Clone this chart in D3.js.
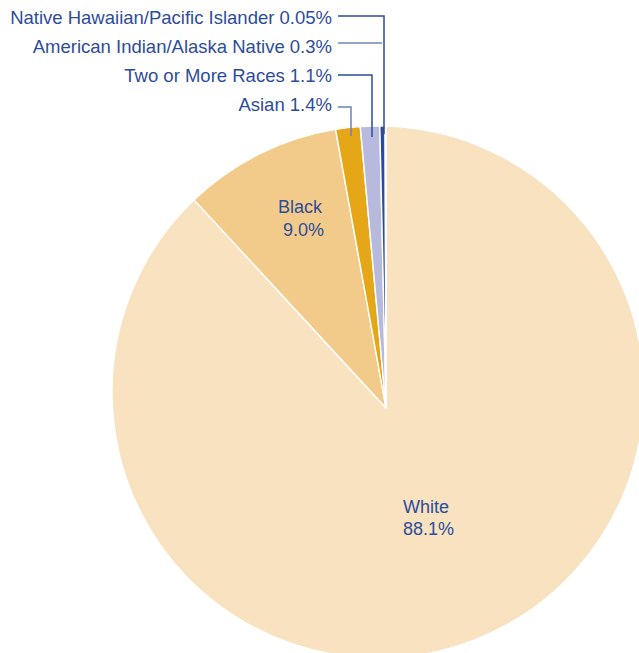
<!DOCTYPE html>
<html>
<head>
<meta charset="utf-8">
<script src="https://cdn.jsdelivr.net/npm/d3@7"></script>
<style>
  html, body { margin: 0; padding: 0; background: #fff; }
  svg { display: block; }
  text { font-family: "Liberation Sans", Arial, Helvetica, sans-serif; }
</style>
</head>
<body>
<svg id="chart" width="639" height="653"></svg>
<script>
// ---- data ----
const categories = ["White", "Black", "Asian", "Two or More Races", "American Indian/Alaska Native", "Native Hawaiian/Pacific Islander"];
const values = [88.1, 9.0, 1.4, 1.1, 0.3, 0.05];
const valueLabels = ["88.1%", "9.0%", "1.4%", "1.1%", "0.3%", "0.05%"];
const colors = ["#F8E2BF", "#F2CB8A", "#E5A718", "#B8BADD", "#2D4B9C", "#23418F"];

const svg = d3.select("#chart");
const W = 639, H = 653;

// geometry
const apex = [386, 408];      // point where slice edges meet
const center = [378, 392];    // centre of the outer outline
const R = 266;

const pie = d3.pie().sort(null).value(d => d.v);
const arcsData = pie(categories.map((c, i) => ({ c, v: values[i], i })));

function rayHit(theta) {
  const d = [Math.sin(theta), -Math.cos(theta)];
  const w = [apex[0] - center[0], apex[1] - center[1]];
  const wd = w[0] * d[0] + w[1] * d[1];
  const ww = w[0] * w[0] + w[1] * w[1];
  const t = -wd + Math.sqrt(wd * wd - (ww - R * R));
  return [apex[0] + t * d[0], apex[1] + t * d[1]];
}
function slicePath(a) {
  const p0 = rayHit(a.startAngle), p1 = rayHit(a.endAngle);
  let f0 = Math.atan2(p0[1] - center[1], p0[0] - center[0]);
  let f1 = Math.atan2(p1[1] - center[1], p1[0] - center[0]);
  let span = f1 - f0; while (span < 0) span += 2 * Math.PI;
  const p = d3.path();
  p.moveTo(apex[0], apex[1]);
  p.lineTo(p0[0], p0[1]);
  p.arc(center[0], center[1], R, f0, f0 + span, false);
  p.closePath();
  return p.toString();
}

svg.append("g").selectAll("path")
  .data(arcsData)
  .join("path")
  .attr("d", slicePath)
  .attr("fill", d => colors[d.data.i])
  .attr("stroke", "#ffffff")
  .attr("stroke-width", 1.4)
  .attr("stroke-linejoin", "round");

const textColor = "#2D4D9C";

// inner labels
const inner = svg.append("g").attr("fill", textColor).attr("font-size", 18);
inner.append("text").attr("x", 278).attr("y", 213).text(categories[1]);
inner.append("text").attr("x", 283).attr("y", 236).text(valueLabels[1]);
inner.append("text").attr("x", 403).attr("y", 513).text(categories[0]);
inner.append("text").attr("x", 403).attr("y", 535).text(valueLabels[0]);

// outer labels with leader lines (small slices)
const outer = [
  { i: 5, y: 24, lineY: 16, xEnd: 384, yEnd: 134, stroke: "#2D4B9C" },
  { i: 4, y: 53, lineY: 43, xEnd: 382, yEnd: null, stroke: "#6F86C2" },
  { i: 3, y: 82, lineY: 75, xEnd: 372, yEnd: 137, stroke: "#2D4B9C" },
  { i: 2, y: 111, lineY: 107, xEnd: 351, yEnd: 136, stroke: "#6A82BE" }
];
const og = svg.append("g");
outer.forEach(o => {
  og.append("text")
    .attr("x", 332).attr("y", o.y)
    .attr("text-anchor", "end")
    .attr("fill", textColor)
    .attr("font-size", 18.5)
    .text(categories[o.i] + " " + valueLabels[o.i]);
  let pts = [[338, o.lineY], [o.xEnd, o.lineY]];
  if (o.yEnd !== null) pts.push([o.xEnd, o.yEnd]);
  og.append("path")
    .attr("d", d3.line()(pts))
    .attr("fill", "none")
    .attr("stroke", o.stroke)
    .attr("stroke-width", 1.5);
});
</script>
</body>
</html>
